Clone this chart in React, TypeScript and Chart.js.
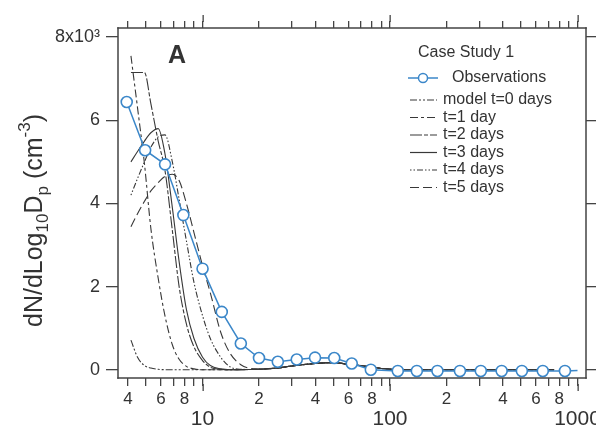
import React, { useEffect, useRef } from "react";
import { Chart, registerables } from "chart.js";
Chart.register(...registerables);

// ---------- data ----------
const obsD = [3.94, 4.94, 6.31, 7.9, 10.0, 12.66, 16.0, 20.0, 25.2, 31.8, 39.8, 50.4, 62.5, 79, 110, 139, 179, 236, 305, 394, 505, 653, 857, 1000];
const obsN = [6.44, 5.28, 4.94, 3.72, 2.43, 1.39, 0.63, 0.28, 0.19, 0.245, 0.29, 0.28, 0.15, 0.0, -0.03, -0.03, -0.03, -0.03, -0.03, -0.03, -0.03, -0.03, -0.03, -0.02];

const modelD = [4.15, 4.5, 4.9, 5.3, 5.8, 6.3, 6.9, 7.5, 8.2, 9, 10, 11, 12.5, 14, 16, 18, 20, 25, 30, 40, 50, 60, 75, 90, 110, 150, 200, 300, 500, 750];
const t0 = [0.71, 0.3, 0.1, 0.04, 0.01, 0, 0, 0, 0, 0, 0, 0, 0, 0, 0, 0.005, 0.01, 0.04, 0.09, 0.15, 0.17, 0.13, 0.08, 0.03, 0.005, 0, 0, 0, 0, 0];
const t1 = [7.55, 6.3, 4.95, 3.4, 2.2, 1.3, 0.6, 0.25, 0.08, 0.02, 0, 0, 0, 0, 0, 0.005, 0.01, 0.04, 0.09, 0.15, 0.17, 0.13, 0.08, 0.03, 0.005, 0, 0, 0, 0, 0];
const t2 = [7.15, 7.15, 7.15, 6.4, 5.5, 4.8, 3.35, 2.0, 1.1, 0.55, 0.22, 0.06, 0.01, 0, 0, 0.005, 0.01, 0.04, 0.09, 0.15, 0.17, 0.13, 0.08, 0.03, 0.005, 0, 0, 0, 0, 0];
const t3 = [5.0, 5.25, 5.5, 5.7, 5.8, 5.2, 3.9, 2.6, 1.45, 0.75, 0.3, 0.1, 0.02, 0, 0, 0.005, 0.01, 0.04, 0.09, 0.15, 0.17, 0.13, 0.08, 0.03, 0.005, 0, 0, 0, 0, 0];
const t4 = [4.2, 4.6, 5.0, 5.35, 5.6, 5.65, 5.0, 4.1, 3.1, 2.1, 1.3, 0.75, 0.3, 0.07, 0.01, 0.005, 0.01, 0.04, 0.09, 0.15, 0.17, 0.13, 0.08, 0.03, 0.005, 0, 0, 0, 0, 0];
const t5 = [3.44, 3.75, 4.05, 4.3, 4.5, 4.65, 4.7, 4.55, 4.0, 3.3, 2.5, 1.85, 0.9, 0.4, 0.12, 0.03, 0.015, 0.04, 0.09, 0.15, 0.17, 0.13, 0.08, 0.03, 0.005, 0, 0, 0, 0, 0];

const modelLabels = ["model t=0 days", "t=1 day", "t=2 days", "t=3 days", "t=4 days", "t=5 days"];
const modelSeries = [t0, t1, t2, t3, t4, t5];

const xTickVals = [4, 5, 6, 7, 8, 9, 10, 20, 30, 40, 50, 60, 70, 80, 90, 100, 200, 300, 400, 500, 600, 700, 800, 900, 1000];
const xMajor = [10, 100, 1000];
const xLabelled = [4, 6, 8, 20, 40, 60, 80, 200, 400, 600, 800];
const yTickVals = [0, 2, 4, 6, 8];

// ---------- style ----------
const FAM = "'Liberation Sans', Arial, sans-serif";
const FRAME = "#444444";
const TEXT = "#333333";
const BLUE = "#3b87c9";
const MODEL = "#383838";
const DASHES = [
  [7, 2, 2, 2, 2, 2],
  [8, 3, 3, 3],
  [12, 2, 4, 2],
  [],
  [1.5, 2, 1.5, 2, 6, 2],
  [9, 4],
];
const X_MIN = 3.54;
const X_MAX = 1110;
const Y_MIN = -0.2;
const Y_MAX = 8.22;

function digitLabel(v: number): string {
  const lead = v / Math.pow(10, Math.floor(Math.log10(v) + 1e-9));
  return String(Math.round(lead));
}

const decor = {
  id: "decor",
  afterDraw(chart: any) {
    const ctx: CanvasRenderingContext2D = chart.ctx;
    const ca = chart.chartArea;
    const left = ca.left, right = ca.right, top = ca.top, bottom = ca.bottom;
    const xs = chart.scales.x;
    ctx.save();
    ctx.setLineDash([]);
    ctx.fillStyle = FRAME;
    // frame
    ctx.fillRect(left - 0.75, top - 0.75, right - left + 1.5, 1.5);
    ctx.fillRect(left - 0.75, bottom - 0.75, right - left + 1.5, 1.5);
    ctx.fillRect(left - 0.75, top - 0.75, 1.5, bottom - top + 1.5);
    ctx.fillRect(right - 0.75, top - 0.75, 1.5, bottom - top + 1.5);
    // longer major ticks (bottom and top)
    for (const v of xMajor) {
      const px = Math.round(xs.getPixelForValue(v));
      ctx.fillRect(px - 0.5, bottom + 6, 1.3, 7);
      ctx.fillRect(px - 0.5, top - 13, 1.3, 7);
    }

    // panel letter
    ctx.fillStyle = TEXT;
    ctx.font = `bold 25px ${FAM}`;
    ctx.textAlign = "center";
    ctx.textBaseline = "middle";
    ctx.fillText("A", 177, 56);

    // y-axis title
    ctx.save();
    ctx.translate(42, 327);
    ctx.rotate(-Math.PI / 2);
    ctx.textAlign = "left";
    ctx.textBaseline = "alphabetic";
    const parts = [
      { t: "dN/dLog", f: 25, dy: 0 },
      { t: "10", f: 17, dy: 6 },
      { t: "D", f: 25, dy: 0 },
      { t: "p", f: 17, dy: 6 },
      { t: " (cm", f: 25, dy: 0 },
      { t: "-3", f: 17, dy: -12 },
      { t: ")", f: 25, dy: 0 },
    ];
    let cx = 0;
    for (const p of parts) {
      ctx.font = `${p.f}px ${FAM}`;
      ctx.fillText(p.t, cx, p.dy);
      cx += ctx.measureText(p.t).width;
    }
    ctx.restore();

    // legend
    const line = (x1: number, y1: number, x2: number, y2: number) => {
      ctx.beginPath();
      ctx.moveTo(x1, y1);
      ctx.lineTo(x2, y2);
      ctx.stroke();
    };
    const ds = chart.data.datasets;
    ctx.textAlign = "left";
    ctx.textBaseline = "middle";
    ctx.font = `16px ${FAM}`;
    ctx.fillStyle = TEXT;
    ctx.fillText("Case Study 1", 418, 53);
    const oy = 78;
    ctx.strokeStyle = ds[0].borderColor;
    ctx.lineWidth = 1.5;
    line(408, oy, 438, oy);
    ctx.beginPath();
    ctx.arc(423, oy, 4.5, 0, Math.PI * 2);
    ctx.fillStyle = "#fff";
    ctx.fill();
    ctx.stroke();
    ctx.fillStyle = TEXT;
    ctx.fillText(ds[0].label, 452, oy);
    const rows = [100, 117.5, 135, 152.5, 170, 187.5];
    rows.forEach((ry, i) => {
      const d = ds[i + 1];
      ctx.strokeStyle = d.borderColor;
      ctx.lineWidth = 1.2;
      ctx.setLineDash(d.borderDash || []);
      line(410, ry, 437, ry);
      ctx.setLineDash([]);
      ctx.fillStyle = TEXT;
      ctx.fillText(d.label, 443, ry);
    });
    ctx.restore();
  },
};

const tickGrid = (len: number) => ({
  display: true,
  drawOnChartArea: false,
  drawTicks: true,
  tickLength: len,
  color: FRAME,
  lineWidth: 1.3,
});

export default function App() {
  const ref = useRef<HTMLCanvasElement>(null);
  useEffect(() => {
    if (!ref.current) return;
    const datasets: any[] = [
      {
        label: "Observations",
        data: obsD.map((v, i) => ({ x: v, y: obsN[i] })),
        borderColor: BLUE,
        backgroundColor: "#ffffff",
        borderWidth: 1.5,
        pointRadius: obsD.map((_, i) => (i === obsD.length - 1 ? 0 : 5.5)),
        pointBorderWidth: 1.6,
        pointBorderColor: BLUE,
        pointBackgroundColor: "#ffffff",
        order: 0,
      },
      ...modelSeries.map((s, k) => ({
        label: modelLabels[k],
        data: modelD.map((v, i) => ({ x: v, y: s[i] })),
        borderColor: MODEL,
        borderWidth: 1.1,
        borderDash: DASHES[k],
        pointRadius: 0,
        cubicInterpolationMode: "monotone",
        order: 1,
      })),
    ];
    const chart = new Chart(ref.current, {
      type: "line",
      data: { datasets },
      plugins: [decor],
      options: {
        animation: false,
        responsive: false,
        layout: { padding: 0 },
        plugins: { legend: { display: false }, tooltip: { enabled: false } },
        scales: {
          x: {
            type: "logarithmic",
            position: "bottom",
            min: X_MIN,
            max: X_MAX,
            afterBuildTicks: (s: any) => {
              s.ticks = xTickVals.map((v) => ({ value: v, major: xMajor.includes(v) }));
            },
            afterFit: (s: any) => {
              s.height = 52;
              s.paddingLeft = 0;
              s.paddingRight = 0;
            },
            grid: tickGrid(8),
            border: { display: false },
            ticks: {
              autoSkip: false,
              maxRotation: 0,
              minRotation: 0,
              padding: 3,
              color: TEXT,
              font: (c: any) => {
                const v = c.tick ? c.tick.value : 0;
                return xMajor.includes(v)
                  ? { family: FAM, size: 21, lineHeight: "20px" }
                  : { family: FAM, size: 17, lineHeight: "20px" };
              },
              callback: (v: any) => {
                const n = Number(v);
                if (xMajor.includes(n)) return ["", String(n)];
                if (xLabelled.includes(n)) return digitLabel(n);
                return "";
              },
            },
          },
          x2: {
            type: "logarithmic",
            axis: "x",
            position: "top",
            min: X_MIN,
            max: X_MAX,
            afterBuildTicks: (s: any) => {
              s.ticks = xTickVals.map((v) => ({ value: v }));
            },
            afterFit: (s: any) => {
              s.height = 28;
              s.paddingLeft = 0;
              s.paddingRight = 0;
            },
            grid: tickGrid(7),
            border: { display: false },
            ticks: { display: false, autoSkip: false, maxRotation: 0, minRotation: 0 },
          },
          y: {
            type: "linear",
            position: "left",
            min: Y_MIN,
            max: Y_MAX,
            afterBuildTicks: (s: any) => {
              s.ticks = yTickVals.map((v) => ({ value: v }));
            },
            afterFit: (s: any) => {
              s.width = 118;
              s.paddingTop = 0;
              s.paddingBottom = 0;
            },
            grid: tickGrid(12),
            border: { display: false },
            ticks: {
              padding: 6,
              color: TEXT,
              font: { family: FAM, size: 18 },
              callback: (v: any) => (Number(v) === 8 ? "8x10³" : String(v)),
            },
          },
          y2: {
            type: "linear",
            axis: "y",
            position: "right",
            min: Y_MIN,
            max: Y_MAX,
            afterBuildTicks: (s: any) => {
              s.ticks = yTickVals.map((v) => ({ value: v }));
            },
            afterFit: (s: any) => {
              s.width = 10;
              s.paddingTop = 0;
              s.paddingBottom = 0;
            },
            grid: tickGrid(10),
            border: { display: false },
            ticks: { display: false },
          },
        },
      } as any,
    });
    return () => chart.destroy();
  }, []);
  return (
    <canvas
      ref={ref}
      width={596}
      height={430}
      style={{ position: "absolute", left: 0, top: 0, width: 596, height: 430 }}
    />
  );
}
